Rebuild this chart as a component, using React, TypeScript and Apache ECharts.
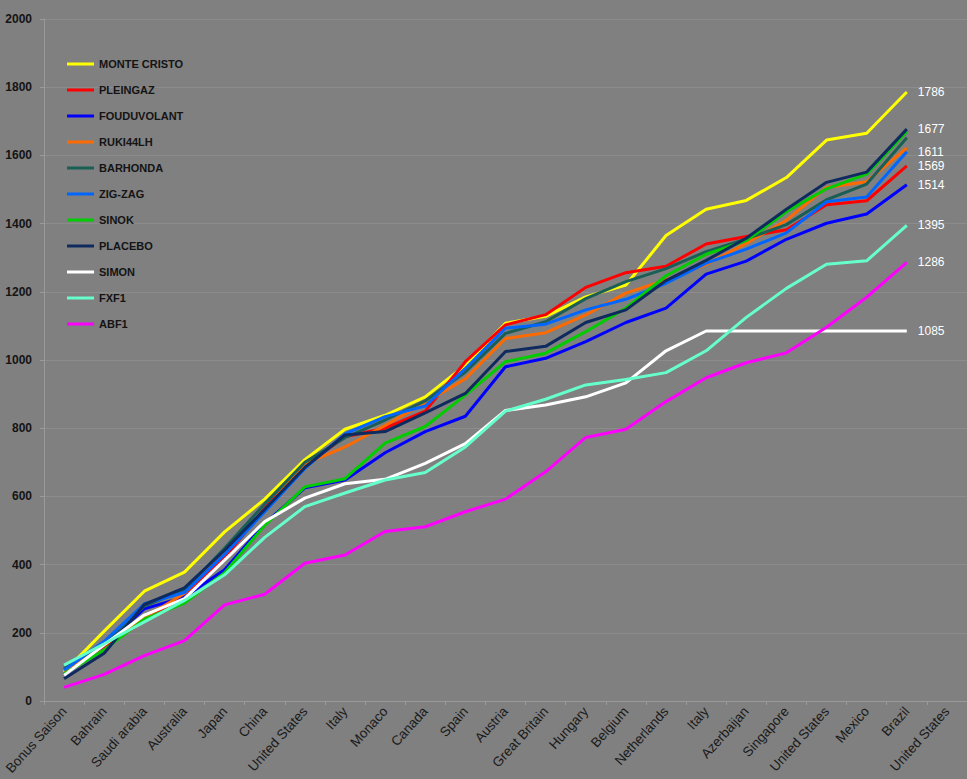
import React, { useEffect, useRef } from "react";
import * as echarts from "echarts";

const categories = [
  "Bonus Saison", "Bahrain", "Saudi arabia", "Australia", "Japan", "China",
  "United States", "Italy", "Monaco", "Canada", "Spain", "Austria",
  "Great Britain", "Hungary", "Belgium", "Netherlands", "Italy", "Azerbaijan",
  "Singapore", "United States", "Mexico", "Brazil", "United States",
];

const monteCristo = [85, 205, 322, 378, 496, 592, 708, 797, 838, 892, 985, 1108, 1128, 1185, 1220, 1365, 1442, 1468, 1535, 1645, 1665, 1786];
const pleingaz = [80, 160, 235, 310, 420, 565, 690, 775, 800, 850, 995, 1103, 1133, 1213, 1256, 1275, 1340, 1362, 1382, 1455, 1467, 1569];
const fouduvolant = [75, 165, 270, 305, 385, 520, 625, 648, 728, 790, 835, 980, 1005, 1054, 1110, 1152, 1252, 1290, 1354, 1401, 1428, 1514];
const ruki44lh = [80, 165, 245, 315, 440, 560, 695, 745, 808, 875, 945, 1063, 1080, 1132, 1196, 1235, 1280, 1342, 1410, 1506, 1523, 1622];
const barhonda = [95, 170, 278, 325, 448, 578, 700, 772, 824, 880, 965, 1078, 1112, 1180, 1230, 1268, 1318, 1355, 1397, 1470, 1516, 1652];
const zigZag = [90, 175, 285, 318, 430, 555, 682, 783, 834, 865, 975, 1093, 1105, 1147, 1178, 1225, 1284, 1325, 1373, 1464, 1478, 1611];
const sinok = [80, 150, 240, 287, 376, 515, 628, 652, 756, 805, 897, 995, 1020, 1083, 1152, 1247, 1310, 1350, 1435, 1502, 1545, 1670];
const placebo = [65, 140, 283, 332, 442, 562, 685, 780, 790, 845, 902, 1025, 1040, 1110, 1147, 1233, 1292, 1357, 1442, 1521, 1551, 1677];
const simon = [75, 165, 252, 300, 413, 526, 595, 637, 650, 697, 755, 852, 868, 892, 933, 1027, 1085, 1085, 1085, 1085, 1085, 1085];
const fxf1 = [105, 168, 232, 295, 370, 480, 570, 610, 648, 670, 745, 850, 885, 927, 943, 963, 1027, 1125, 1210, 1281, 1291, 1395];
const abf1 = [40, 78, 133, 177, 282, 313, 404, 428, 497, 511, 555, 592, 672, 773, 797, 878, 948, 992, 1021, 1096, 1184, 1286];

const seriesNames = ["MONTE CRISTO", "PLEINGAZ", "FOUDUVOLANT", "RUKI44LH", "BARHONDA", "ZIG-ZAG", "SINOK", "PLACEBO", "SIMON", "FXF1", "ABF1"];
const seriesData = [monteCristo, pleingaz, fouduvolant, ruki44lh, barhonda, zigZag, sinok, placebo, simon, fxf1, abf1];
const seriesColors = ["#ffff00", "#ff0000", "#0000ff", "#ff6a00", "#1a5e55", "#0066ff", "#00cc00", "#0f2a5e", "#ffffff", "#66ffcc", "#ff00ff"];
const labelled = [true, true, true, false, false, true, false, true, true, true, true];

export default function App() {
  const ref = useRef<HTMLDivElement>(null);
  useEffect(() => {
    if (!ref.current) return;
    const chart = echarts.init(ref.current, null, { renderer: "svg" });
    const series = seriesNames.map((name, i) => ({
      name,
      type: "line",
      data: seriesData[i],
      symbol: "none",
      lineStyle: { width: 3, color: seriesColors[i] },
      itemStyle: { color: seriesColors[i] },
      endLabel: {
        show: labelled[i],
        formatter: (p: any) => String(p.value),
        color: "#ffffff",
        fontSize: 12,
        fontFamily: "Liberation Sans, Arial, sans-serif",
        distance: 11,
      },
    }));
    chart.setOption({
      animation: false,
      backgroundColor: "#808080",
      grid: { left: 44, top: 19, bottom: 78, right: -10, containLabel: false },
      legend: {
        orient: "vertical",
        left: 67,
        top: 57,
        padding: 0,
        icon: "rect",
        itemWidth: 27,
        itemHeight: 3,
        itemGap: 12,
        data: seriesNames,
        textStyle: {
          color: "#141414",
          fontWeight: "bold",
          fontSize: 11,
          lineHeight: 14,
          fontFamily: "Liberation Sans, Arial, sans-serif",
        },
      },
      xAxis: {
        type: "category",
        data: categories,
        boundaryGap: true,
        axisLine: { lineStyle: { color: "#9a9a9a", width: 1 } },
        axisTick: { show: true, length: 4, lineStyle: { color: "#9a9a9a" } },
        axisLabel: {
          rotate: 48,
          interval: 0,
          color: "#1a1a1a",
          fontSize: 13.5,
          margin: 8,
          fontFamily: "Liberation Sans, Arial, sans-serif",
        },
        splitLine: { show: false },
      },
      yAxis: {
        type: "value",
        min: 0,
        max: 2000,
        interval: 200,
        axisLine: { show: true, lineStyle: { color: "#9a9a9a", width: 1 } },
        axisTick: { show: true, length: 4, lineStyle: { color: "#9a9a9a" } },
        axisLabel: {
          color: "#141414",
          fontWeight: "bold",
          fontSize: 12,
          margin: 12,
          formatter: (v: number) => String(v),
          fontFamily: "Liberation Sans, Arial, sans-serif",
        },
        splitLine: { show: true, lineStyle: { color: "#8c8c8c", width: 1 } },
      },
      series,
    });
    return () => chart.dispose();
  }, []);
  return (
    <div
      ref={ref}
      style={{ position: "absolute", left: 0, top: 0, width: 967, height: 779 }}
    />
  );
}
